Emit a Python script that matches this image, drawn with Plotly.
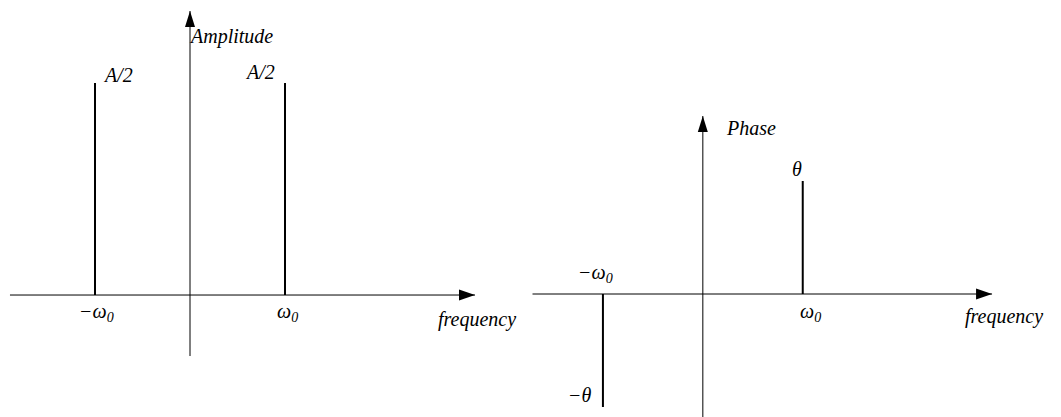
import plotly.graph_objects as go
from plotly.subplots import make_subplots

# Spectrum of A*cos(w0*t + theta): two lines at -w0 and +w0
A = 1.0
theta = 1.0
w0 = 1.0
freqs = [-w0, w0]
amplitude = [A / 2, A / 2]
phase = [-theta, theta]
amp_labels = ["A/2", "A/2"]
freq_labels = ["−ω<sub>0</sub>", "ω<sub>0</sub>"]
phase_labels = ["−θ", "θ"]

FONT = "Liberation Serif"
FS = 20

fig = make_subplots(rows=1, cols=2, horizontal_spacing=0)

# stems
for f, a in zip(freqs, amplitude):
    fig.add_trace(go.Scatter(x=[f, f], y=[0, a], mode="lines",
                             line=dict(color="black", width=2),
                             hoverinfo="skip", showlegend=False), row=1, col=1)
for f, p in zip(freqs, phase):
    fig.add_trace(go.Scatter(x=[f, f], y=[0, p], mode="lines",
                             line=dict(color="black", width=2),
                             hoverinfo="skip", showlegend=False), row=1, col=2)

shapes = []
annotations = []


def axis_line(xr, yr, x0, y0, x1, y1):
    shapes.append(dict(type="line", xref=xr, yref=yr, x0=x0, y0=y0, x1=x1, y1=y1,
                       line=dict(color="black", width=1), layer="above"))


def arrow_head(xr, yr, x, y, direction):
    if direction == "right":
        path = "M0,0 L-16,5.5 L-16,-5.5 Z"
    else:
        path = "M0,0 L-5,-16 L5,-16 Z"
    shapes.append(dict(type="path", xref=xr, yref=yr, xsizemode="pixel", ysizemode="pixel",
                       xanchor=x, yanchor=y, path=path,
                       fillcolor="black", line=dict(color="black", width=0), layer="above"))


def label(xr, yr, x, y, text, xshift=0, yshift=0, xanchor="center", size=FS):
    annotations.append(dict(xref=xr, yref=yr, x=x, y=y, text=text,
                            showarrow=False, xanchor=xanchor, yanchor="middle",
                            xshift=xshift, yshift=yshift,
                            font=dict(family=FONT, size=size, color="black", style="italic")))


# ---- amplitude panel ----
ax_l = (-1.895, 3.0)      # frequency axis extent
ay_l = (-0.1439, 0.6698)  # amplitude axis extent
axis_line("x", "y", ax_l[0], 0, ax_l[1], 0)
axis_line("x", "y", 0, ay_l[0], 0, ay_l[1])
arrow_head("x", "y", ax_l[1], 0, "right")
arrow_head("x", "y", 0, ay_l[1], "up")
label("x", "y", 0, ay_l[1], "Amplitude", xshift=-3, yshift=-25, xanchor="left")
label("x", "y", ax_l[1], 0, "frequency", xshift=2, yshift=-24)
label("x", "y", freqs[0], amplitude[0], amp_labels[0], xshift=23, yshift=8)
label("x", "y", freqs[1], amplitude[1], amp_labels[1], xshift=-25, yshift=11)
for f, t, dx in zip(freqs, freq_labels, [1, 2]):
    label("x", "y", f, 0, t, xshift=dx, yshift=-17)

# ---- phase panel ----
ax_r = (-1.705, 2.895)
ay_r = (-1.0885, 1.575)
axis_line("x2", "y2", ax_r[0], 0, ax_r[1], 0)
axis_line("x2", "y2", 0, ay_r[0], 0, ay_r[1])
arrow_head("x2", "y2", ax_r[1], 0, "right")
arrow_head("x2", "y2", 0, ay_r[1], "up")
label("x2", "y2", 0, ay_r[1], "Phase", xshift=21, yshift=-12, xanchor="left")
label("x2", "y2", ax_r[1], 0, "frequency", xshift=12, yshift=-22)
label("x2", "y2", freqs[1], phase[1], phase_labels[1], xshift=-6, yshift=12)
label("x2", "y2", freqs[0], phase[0], phase_labels[0], xshift=-23, yshift=12)
label("x2", "y2", freqs[0], 0, freq_labels[0], xshift=-7, yshift=21)
label("x2", "y2", freqs[1], 0, freq_labels[1], xshift=8, yshift=-18)

hidden = dict(showgrid=False, zeroline=False, showticklabels=False, ticks="",
              showline=False, fixedrange=True)
fig.update_xaxes(**hidden)
fig.update_yaxes(**hidden)
fig.update_layout(
    width=1061, height=417,
    margin=dict(l=0, r=0, t=0, b=0),
    paper_bgcolor="white", plot_bgcolor="white",
    showlegend=False,
    xaxis=dict(domain=[0, 0.5], range=[-2.0, 3.584]),
    yaxis=dict(domain=[0, 1], range=[-0.2877, 0.6958]),
    xaxis2=dict(domain=[0.5, 1], range=[-1.725, 3.585]),
    yaxis2=dict(domain=[0, 1], range=[-1.0885, 2.6018]),
    shapes=shapes,
    annotations=annotations,
)

fig.write_html("out.html")
